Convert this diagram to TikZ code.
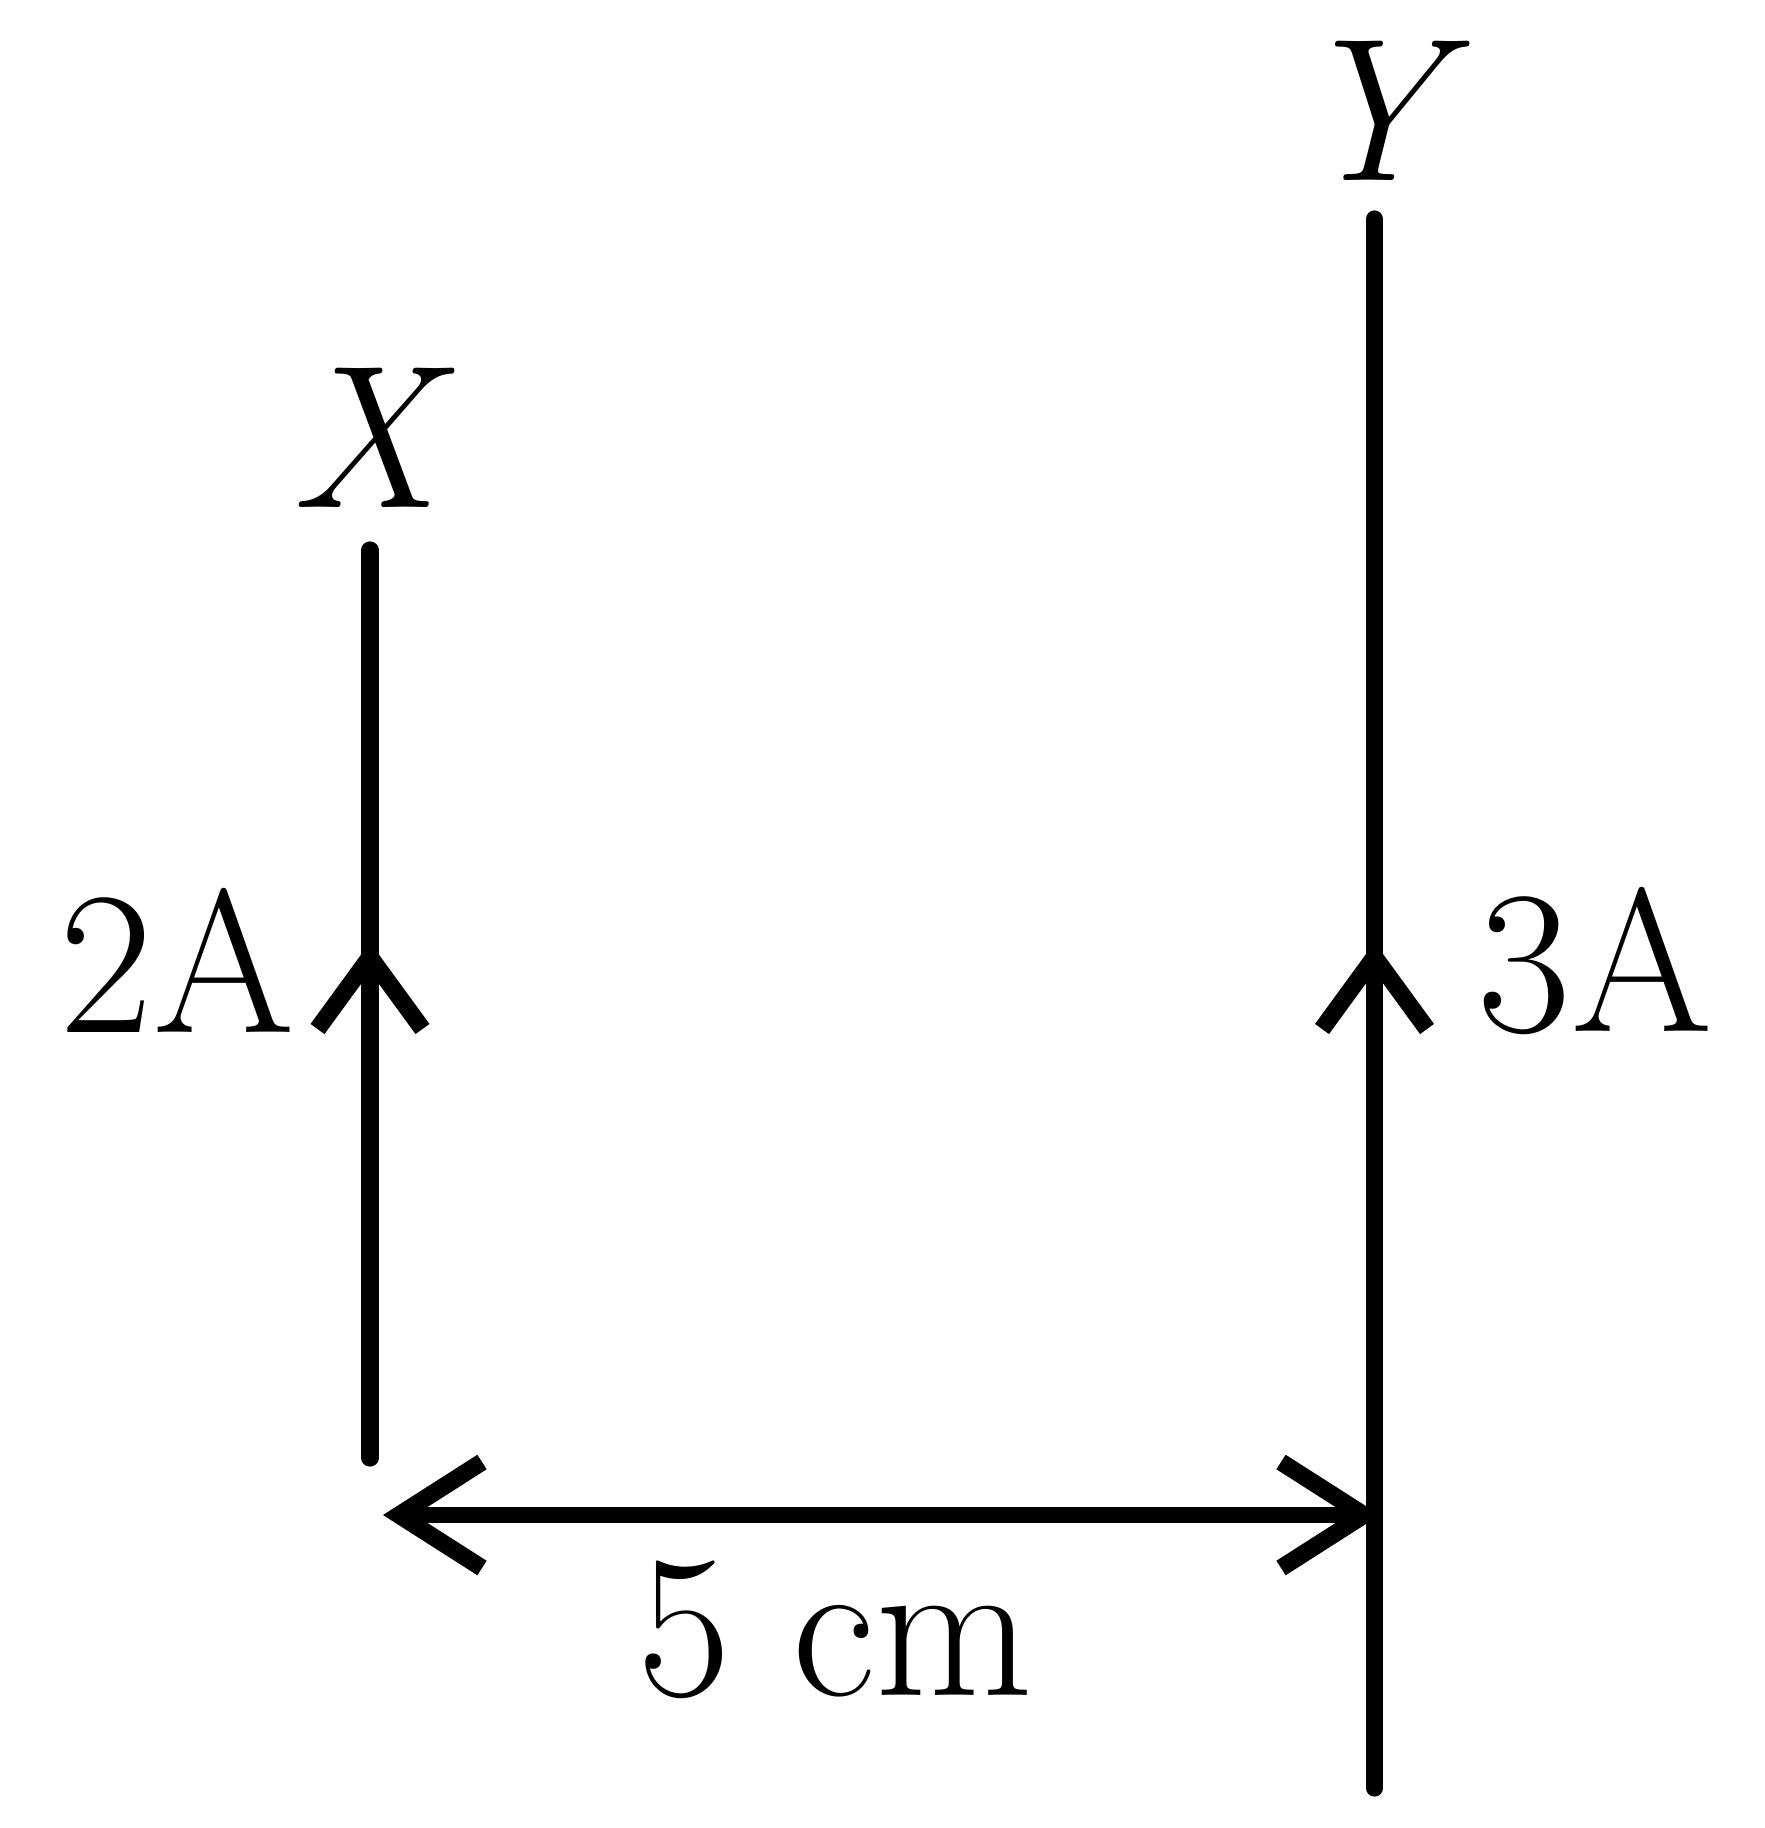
\documentclass[tikz,border=0pt]{standalone}
\usetikzlibrary{calc}
\begin{document}
\begin{tikzpicture}[x=0.01cm,y=-0.01cm,
  wire/.style={line width=4.9pt,line cap=round},
  head/.style={line width=4.9pt,line cap=butt,line join=miter,miter limit=10},
  lbl/.style={inner sep=0pt,anchor=base,font=\fontsize{58}{58}\selectfont}]
\useasboundingbox (0,0) rectangle (1764,1828);
% wire ends
\coordinate (xtop) at (370,550);
\coordinate (xbot) at (370,1458);
\coordinate (ytop) at (1374.5,219);
\coordinate (ybot) at (1374.5,1788);
% wires
\draw[wire] (xtop) -- (xbot);
\draw[wire] (ytop) -- (ybot);
% current arrowheads
\coordinate (xa) at (370,957);
\coordinate (ya) at (1374.5,957);
\draw[head] ($(xa)+(-52.5,72)$) -- (xa) -- ($(xa)+(52.5,72)$);
\draw[head] ($(ya)+(-52.5,72)$) -- (ya) -- ($(ya)+(52.5,72)$);
% distance arrow
\coordinate (dl) at (399,1515);
\coordinate (dr) at (1364,1515);
\draw[line width=4.6pt] (dl) -- (dr);
\draw[head] ($(dl)+(83,-53)$) -- (dl) -- ($(dl)+(83,53)$);
\draw[head] ($(dr)+(-83,-53)$) -- (dr) -- ($(dr)+(-83,53)$);
% labels
\node[lbl] (lx) at (364,508) {\itshape X};
\node[lbl] (ly) at (1369,181) {\itshape Y};
\node[lbl] (l2) at (177,1032) {2A};
\node[lbl] (l3) at (1595,1031) {3A};
\node[lbl] (ld) at (835,1695) {5 cm};
\end{tikzpicture}
\end{document}
